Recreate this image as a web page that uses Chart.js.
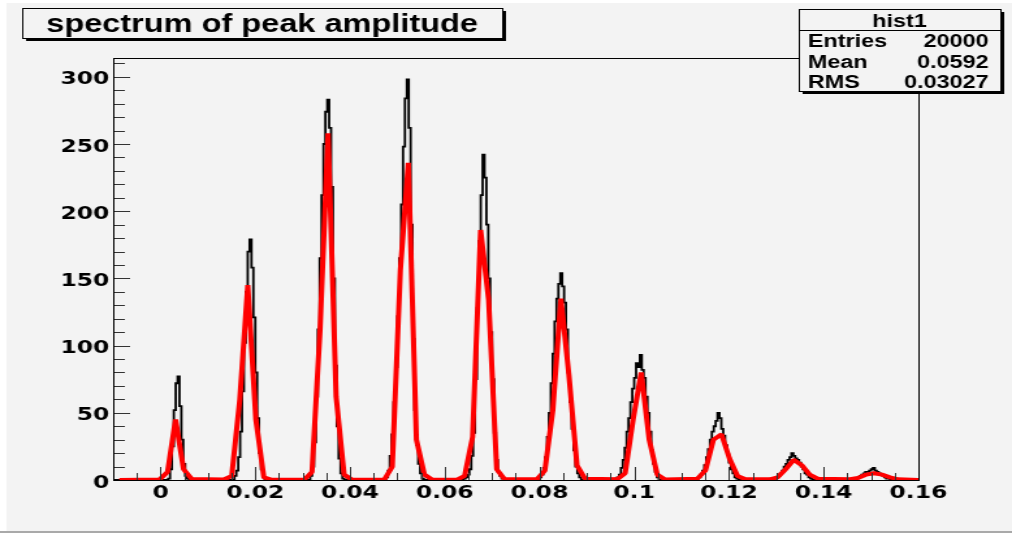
<!DOCTYPE html>
<html>
<head>
<meta charset="utf-8">
<title>spectrum of peak amplitude</title>
<script src="https://cdn.jsdelivr.net/npm/chart.js@4.4.1/dist/chart.umd.min.js"></script>
<style>
    html, body { margin: 0; padding: 0; background: #fff; overflow: hidden; }
    #wrap { width: 1012px; height: 533px; overflow: hidden; }
    /* the ROOT canvas is stretched sideways, so draw narrow and scale it */
    #chart { transform: scaleX(1.3008); transform-origin: 0 0; }
</style>
</head>
<body>
<div id="wrap"><canvas id="chart" width="778" height="533"></canvas></div>
<script>
const histTitle = 'spectrum of peak amplitude';
const statsName = 'hist1';
const statsLabels = ['Entries', 'Mean', 'RMS'];
const statsValues = ['20000', '0.0592', '0.03027'];

const xTickValues = [0, 0.02, 0.04, 0.06, 0.08, 0.1, 0.12, 0.14, 0.16];
const xTickLabels = ['0', '0.02', '0.04', '0.06', '0.08', '0.1', '0.12', '0.14', '0.16'];
const yTickValues = [0, 50, 100, 150, 200, 250, 300];
const yTickLabels = ['0', '50', '100', '150', '200', '250', '300'];

// histogram: bin width, lower edge of the first filled bin of each peak, bin contents
const binWidth = 0.0004;
const peakStarts = [0.0016, 0.0156, 0.0316, 0.0476, 0.064, 0.08, 0.096, 0.1132, 0.1296, 0.1464];
const peak1 = [1, 8, 25, 52, 72, 77, 55, 30, 12, 3, 1];
const peak2 = [3, 7, 17, 36, 66, 102, 140, 170, 179, 158, 121, 80, 46, 20, 8, 2];
const peak3 = [3, 10, 28, 62, 112, 165, 212, 250, 274, 283, 262, 218, 150, 85, 40, 16, 5, 1];
const peak4 = [2, 7, 18, 34, 58, 84, 122, 165, 205, 248, 284, 298, 262, 190, 105, 52, 26, 12, 5, 1];
const peak5 = [1, 2, 4, 8, 18, 35, 75, 128, 178, 212, 242, 225, 190, 150, 110, 75, 35, 15, 6, 3, 1];
const peak6 = [2, 4, 9, 17, 32, 50, 72, 94, 118, 135, 146, 154, 144, 132, 112, 80, 58, 38, 22, 10, 5, 2];
const peak7 = [1, 2, 4, 9, 15, 24, 36, 46, 58, 68, 76, 87, 84, 93, 82, 76, 62, 50, 36, 22, 12, 6, 2];
const peak8 = [1, 2, 4, 7, 11, 17, 23, 30, 36, 40, 44, 50, 46, 38, 33, 26, 19, 13, 8, 5, 2, 1];
const peak9 = [1, 2, 3, 5, 7, 10, 12, 15, 17, 20, 18, 16, 15, 13, 10, 8, 5, 4, 2, 1];
const peak10 = [1, 1, 2, 3, 4, 5, 6, 6, 7, 8, 9, 7, 6, 5, 4, 3, 2, 1, 1];
const peakBins = [peak1, peak2, peak3, peak4, peak5, peak6, peak7, peak8, peak9, peak10];

// fit function, as the polyline through its sample points
const fitX = [-0.00870,
    -0.00022, 0.00147, 0.00317, 0.00486, 0.00656,
    0.01334, 0.01503, 0.01673, 0.01842, 0.02012, 0.02181, 0.02351,
    0.03029, 0.03198, 0.03368, 0.03537, 0.03707, 0.03876, 0.04046,
    0.04724, 0.04893, 0.05063, 0.05232, 0.05402, 0.05571, 0.05741,
    0.06249, 0.06419, 0.06588, 0.06758, 0.06927, 0.07097, 0.07266,
    0.07944, 0.08114, 0.08283, 0.08453, 0.08622, 0.08792, 0.08961,
    0.09639, 0.09809, 0.09978, 0.10148, 0.10317, 0.10487, 0.10656,
    0.11334, 0.11504, 0.11673, 0.11843, 0.12012, 0.12182, 0.12351,
    0.12860, 0.13029, 0.13199, 0.13368, 0.13538, 0.13707, 0.13877,
    0.14555, 0.14724, 0.14894, 0.15063, 0.15233, 0.15402, 0.15572,
    0.16080];
const fitY = [0,
    0.3, 6, 45, 8, 0.8,
    0.3, 3, 60, 145, 45, 2, 0.1,
    0.1, 6, 112, 258, 62, 4, 0.1,
    0.3, 10, 156, 236, 30, 4, 0.2,
    0.1, 3, 32, 186, 134, 8, 0.5,
    0.5, 7, 52, 135, 78, 11, 1,
    0.5, 5, 45, 80, 30, 4, 0.4,
    1, 7, 30, 34, 16, 3, 0.5,
    0.5, 2, 8, 15, 11, 4, 1,
    0.5, 1.5, 4, 5, 4, 2, 0.5,
    0];

const bgColor = '#f3f3f3';

function histPoints() {
    const pts = [{x: -0.01, y: 0}];
    peakBins.forEach((vals, p) => {
        const start = peakStarts[p];
        pts.push({x: start - binWidth / 2, y: 0});
        vals.forEach((v, j) => pts.push({x: start + (j + 0.5) * binWidth, y: v}));
        pts.push({x: start + (vals.length + 0.5) * binWidth, y: 0});
    });
    pts.push({x: 0.16, y: 0});
    return pts;
}

function drawPave(ctx, x, y, w, h) {
    // box with ROOT style shadow on the right and bottom
    ctx.fillStyle = '#000';
    ctx.fillRect(x + 3, y + h, w, 3);
    ctx.fillRect(x + w, y + 3, 3, h);
    ctx.fillStyle = bgColor;
    ctx.fillRect(x, y, w, h);
    ctx.strokeStyle = '#000';
    ctx.lineWidth = 1;
    ctx.strokeRect(x + 0.5, y + 0.5, w, h);
}

const rootStyle = {
    id: 'rootStyle',
    beforeDraw(chart) {
        const ctx = chart.ctx;
        ctx.save();
        ctx.fillStyle = '#ffffff';
        ctx.fillRect(0, 0, chart.width, chart.height);
        ctx.fillStyle = bgColor;
        ctx.fillRect(5, 3, chart.width - 5, 528);
        ctx.fillStyle = '#a9a9a9';
        ctx.fillRect(0, 531, chart.width, 2);
        ctx.restore();
    },
    afterDatasetsDraw(chart) {
        const {ctx, chartArea: a, scales: {x, y}} = chart;
        ctx.save();
        ctx.strokeStyle = '#333';
        ctx.lineWidth = 1;
        ctx.beginPath();
        for (let i = -1; i <= 32; i++) {
            const px = Math.round(x.getPixelForValue(i * 0.005)) + 0.5;
            if (px <= a.left + 1 || px >= a.right - 1) continue;
            const len = i % 4 === 0 ? 13 : 7;
            ctx.moveTo(px, a.bottom);
            ctx.lineTo(px, a.bottom - len);
        }
        for (let i = 1; i <= 31; i++) {
            const py = Math.round(y.getPixelForValue(i * 10)) + 0.5;
            if (py <= a.top + 1) continue;
            const len = i % 5 === 0 ? 13 : 9;
            ctx.moveTo(a.left, py);
            ctx.lineTo(a.left + len, py);
        }
        ctx.stroke();
        ctx.strokeStyle = '#000';
        ctx.strokeRect(Math.round(a.left) + 0.5, Math.round(a.top) + 0.5,
            Math.round(a.right - a.left), Math.round(a.bottom - a.top));
        ctx.restore();
    },
    afterDraw(chart) {
        const ctx = chart.ctx;
        ctx.save();
        // title pave
        drawPave(ctx, 17, 8, 369, 30);
        ctx.fillStyle = '#000';
        ctx.font = 'bold 25px "Liberation Sans", Arial, sans-serif';
        ctx.textAlign = 'center';
        ctx.textBaseline = 'alphabetic';
        ctx.fillText(histTitle, 201.5, 31.5);

        // stats box
        drawPave(ctx, 614, 9, 155, 82);
        ctx.beginPath();
        ctx.moveTo(614, 30.5);
        ctx.lineTo(769, 30.5);
        ctx.stroke();
        ctx.fillStyle = '#000';
        ctx.font = 'bold 18px "Liberation Sans", Arial, sans-serif';
        ctx.textAlign = 'center';
        ctx.fillText(statsName, 691.5, 26.5);
        const rows = [46.5, 68, 88];
        statsLabels.forEach((label, i) => {
            ctx.textAlign = 'left';
            ctx.fillText(label, 621, rows[i]);
            ctx.textAlign = 'right';
            ctx.fillText(statsValues[i], 760, rows[i]);
        });
        ctx.restore();
    }
};

const tickFont = {family: '"DejaVu Sans", sans-serif', size: 18, weight: 'bold'};

new Chart(document.getElementById('chart'), {
    type: 'line',
    data: {
        datasets: [
            {
                label: 'fit',
                data: fitX.map((v, i) => ({x: v, y: fitY[i]})),
                borderColor: '#ff0000',
                borderWidth: 4,
                borderJoinStyle: 'bevel',
                pointRadius: 0,
                tension: 0,
                clip: 0,
                order: 0
            },
            {
                label: statsName,
                data: histPoints(),
                borderColor: '#000000',
                borderWidth: 1.8,
                pointRadius: 0,
                stepped: 'middle',
                clip: 0,
                order: 1
            }
        ]
    },
    options: {
        responsive: false,
        animation: false,
        events: [],
        layout: {padding: {left: 0, right: 72, top: 58, bottom: 0}},
        plugins: {
            legend: {display: false},
            tooltip: {enabled: false},
            title: {display: false}
        },
        scales: {
            x: {
                type: 'linear',
                min: -0.01,
                max: 0.16,
                grid: {display: false, drawTicks: false},
                border: {display: false},
                afterBuildTicks: (scale) => {
                    scale.ticks = xTickValues.map(v => ({value: v}));
                },
                afterFit: (scale) => {
                    scale.height = 53;
                },
                ticks: {
                    autoSkip: false,
                    maxRotation: 0,
                    padding: 3,
                    color: '#000',
                    font: tickFont,
                    callback: (v, i) => xTickLabels[i]
                }
            },
            y: {
                type: 'linear',
                min: 0,
                max: 314,
                grid: {display: false, drawTicks: false},
                border: {display: false},
                afterBuildTicks: (scale) => {
                    scale.ticks = yTickValues.map(v => ({value: v}));
                },
                afterFit: (scale) => {
                    scale.width = 87;
                },
                ticks: {
                    autoSkip: false,
                    padding: 3,
                    labelOffset: 3,
                    color: '#000',
                    font: tickFont,
                    callback: (v, i) => yTickLabels[i]
                }
            }
        }
    },
    plugins: [rootStyle]
});
</script>
</body>
</html>
